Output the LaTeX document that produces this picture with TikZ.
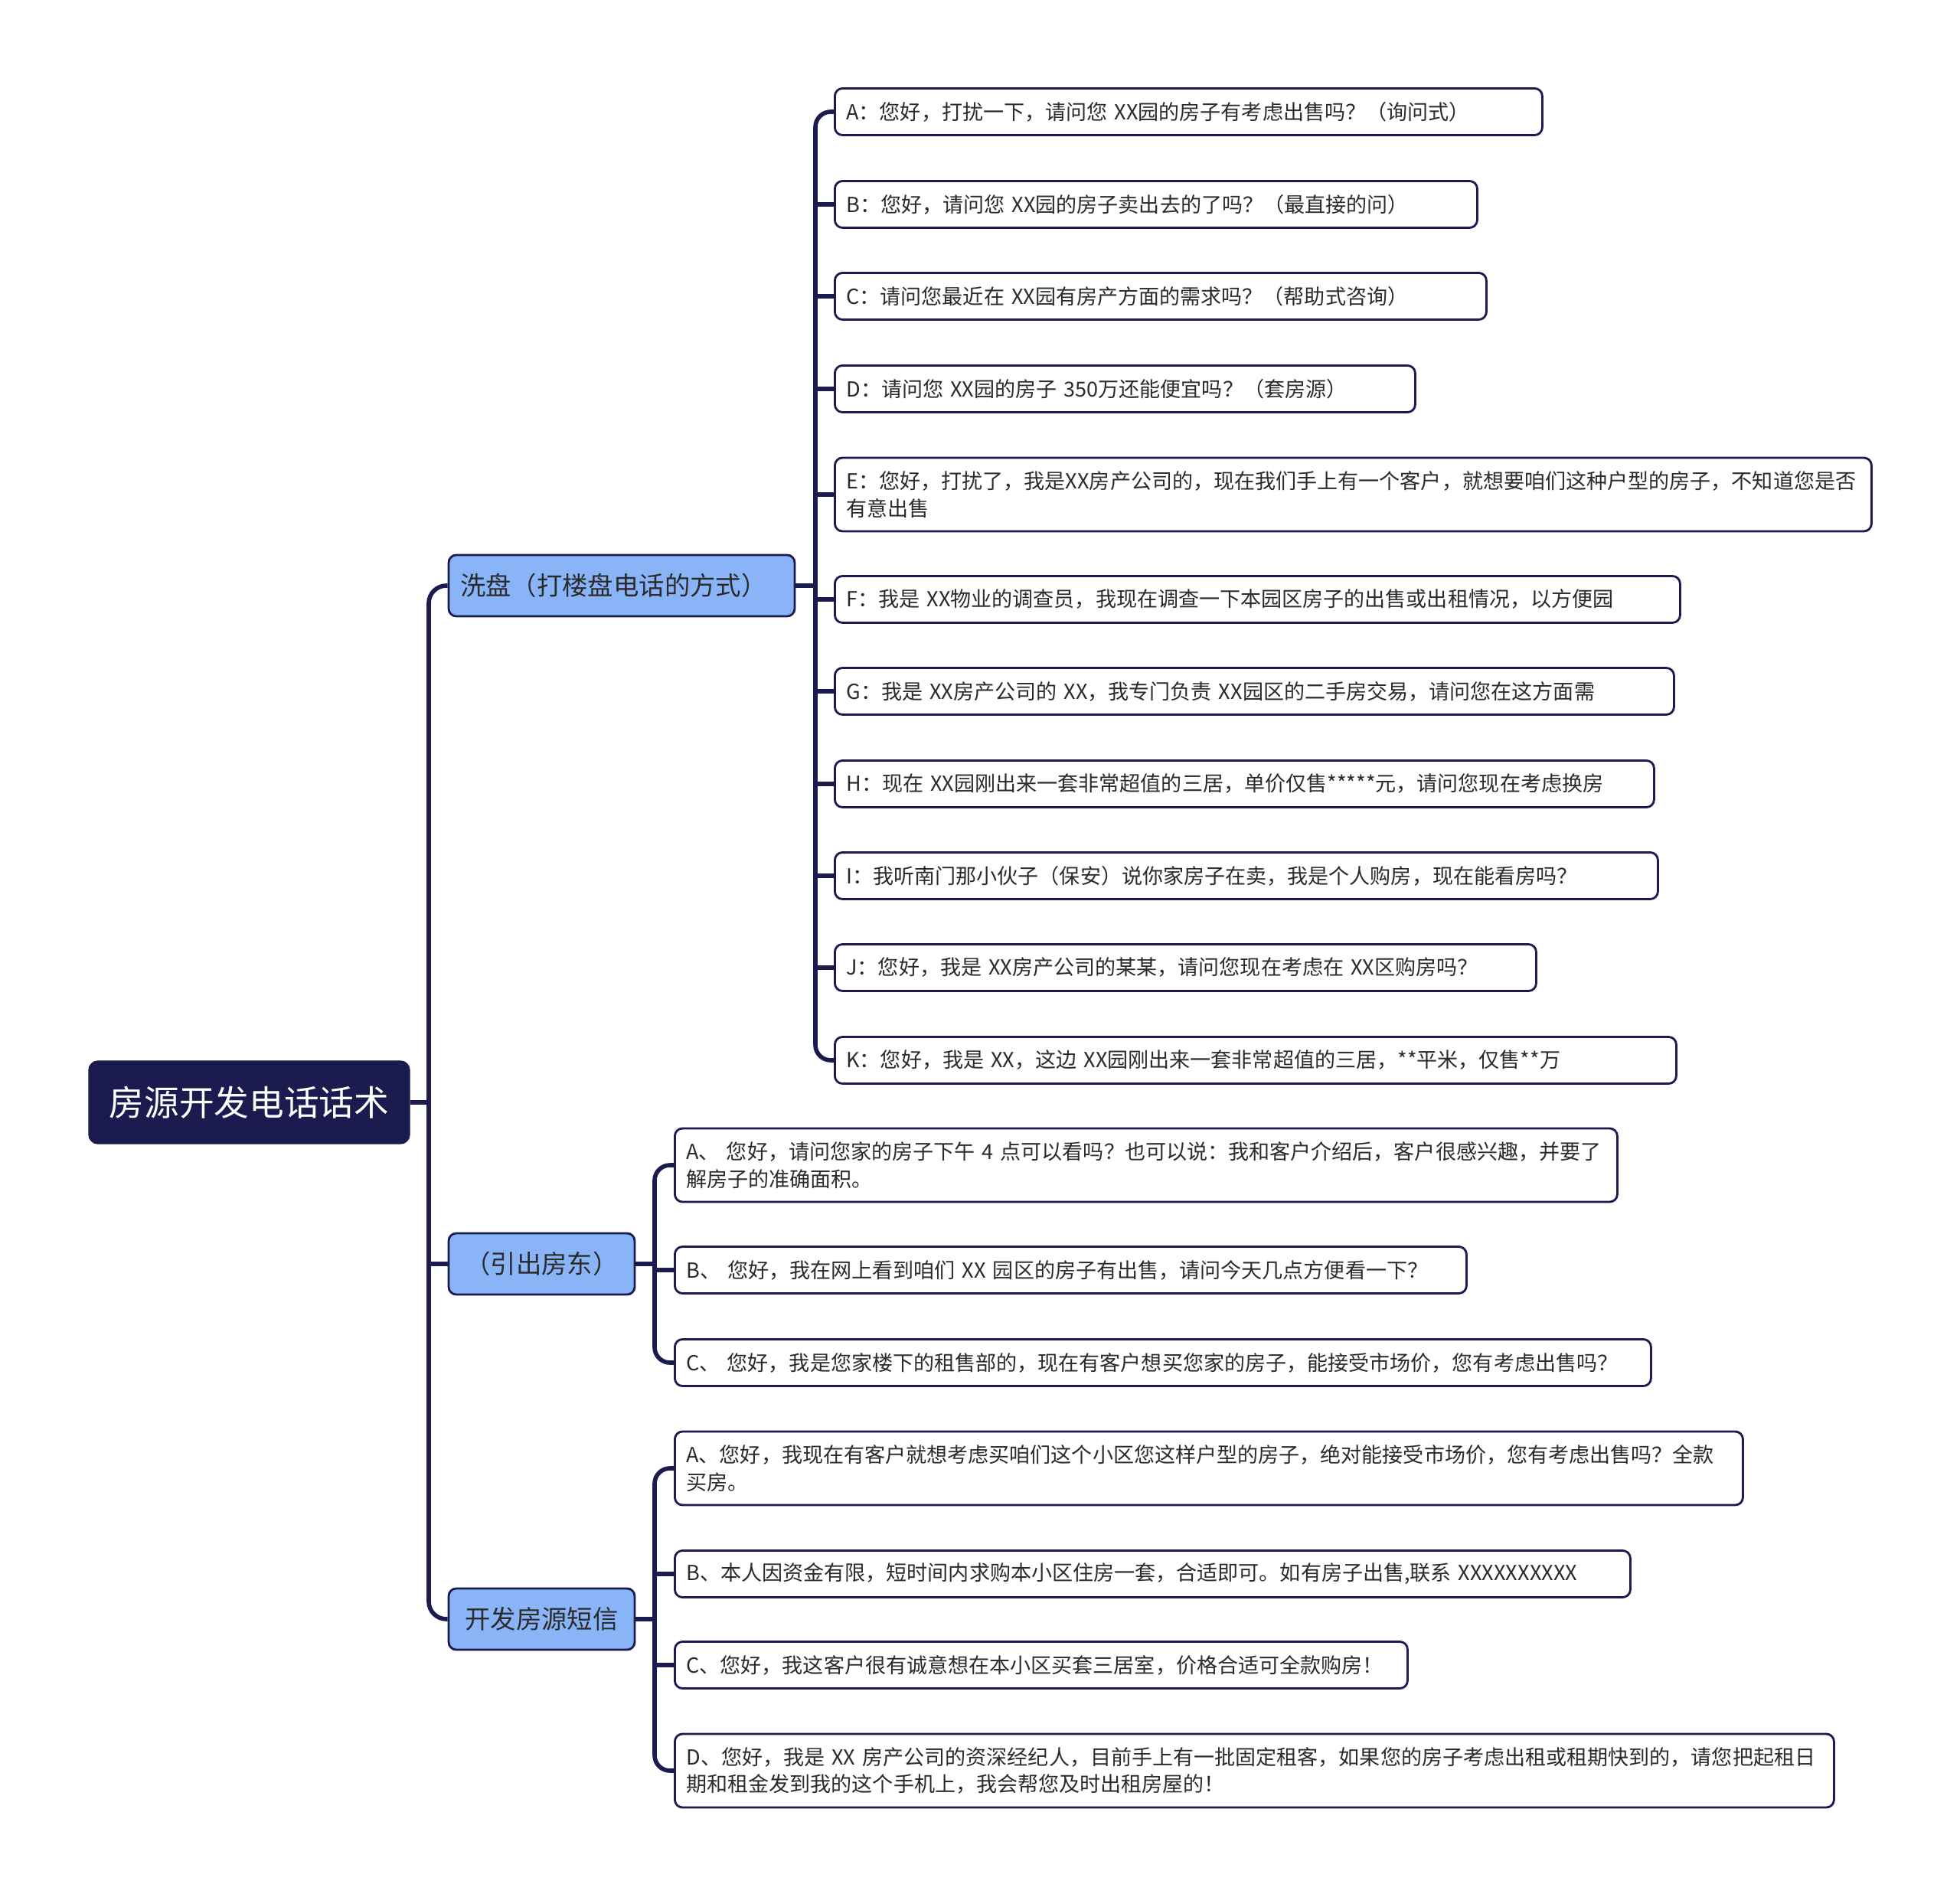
\documentclass[tikz,border=0pt]{standalone}
\usepackage{fontspec}
\setmainfont{Noto Sans CJK SC}

\definecolor{navy}{HTML}{1C1B4F}
\definecolor{topicblue}{HTML}{8AB4F8}
\definecolor{textdark}{HTML}{2B2B2B}

\begin{document}
\begin{tikzpicture}[
    conn/.style={draw=navy, line width=1.6pt},
    rootbox/.style={rectangle, rounded corners=0.12cm, fill=navy, draw=navy,
      text=white, font=\fontsize{13pt}{15pt}\selectfont,
      minimum width=4.19cm, minimum height=1.08cm},
    topic/.style={rectangle, rounded corners=0.1cm, fill=topicblue, draw=navy,
      line width=0.8pt, text=textdark, font=\fontsize{9.5pt}{11pt}\selectfont,
      minimum height=0.8cm},
    leaf/.style={rectangle, rounded corners=0.1cm, draw=navy, line width=0.8pt,
      fill=white, text=textdark, font=\fontsize{7.7pt}{10.2pt}\selectfont,
      inner xsep=0.15cm, inner ysep=0pt, text width=#1, align=left,
      anchor=west, minimum height=0.61cm},
    twoline/.style={minimum height=0.96cm}
  ]
  \useasboundingbox (0,0) rectangle (25.6,-24.78);

  % Spine positions
  \coordinate (s0) at (5.60,0);
  \coordinate (s1) at (10.65,0);
  \coordinate (s2) at (8.55,0);

  % Root and topics
  \node[rootbox] (root) at (3.255,-14.40) {房源开发电话话术};
  \node[topic, minimum width=4.52cm, text width=4.22cm, inner xsep=0.15cm] (xipan) at (8.12,-7.65) {洗盘（打楼盘电话的方式）};
  \node[topic, minimum width=2.43cm] (yinchu) at (7.075,-16.51) {（引出房东）};
  \node[topic, minimum width=2.43cm] (duanxin) at (7.075,-21.15) {开发房源短信};

  % Washing the list
  \node[leaf=8.94cm] (xa) at (10.89,-1.46) {A：您好，打扰一下，请问您 XX园的房子有考虑出售吗？（询问式）};
  \node[leaf=8.09cm] (xb) at (10.89,-2.67) {B：您好，请问您 XX园的房子卖出去的了吗？（最直接的问）};
  \node[leaf=8.21cm] (xc) at (10.89,-3.87) {C：请问您最近在 XX园有房产方面的需求吗？（帮助式咨询）};
  \node[leaf=7.28cm] (xd) at (10.89,-5.08) {D：请问您 XX园的房子 350万还能便宜吗？（套房源）};
  \node[leaf=13.24cm, twoline] (xe) at (10.89,-6.46) {E：您好，打扰了，我是XX房产公司的，现在我们手上有一个客户，就想要咱们这种户型的房子，不知道您是否\\有意出售};
  \node[leaf=10.74cm] (xf) at (10.89,-7.83) {F：我是 XX物业的调查员，我现在调查一下本园区房子的出售或出租情况，以方便园};
  \node[leaf=10.66cm] (xg) at (10.89,-9.03) {G：我是 XX房产公司的 XX，我专门负责 XX园区的二手房交易，请问您在这方面需};
  \node[leaf=10.40cm] (xh) at (10.89,-10.24) {H：现在 XX园刚出来一套非常超值的三居，单价仅售*****元，请问您现在考虑换房};
  \node[leaf=10.45cm] (xi) at (10.89,-11.44) {I：我听南门那小伙子（保安）说你家房子在卖，我是个人购房，现在能看房吗？};
  \node[leaf=8.86cm] (xj) at (10.89,-12.64) {J：您好，我是 XX房产公司的某某，请问您现在考虑在 XX区购房吗？};
  \node[leaf=10.69cm] (xk) at (10.89,-13.85) {K：您好，我是 XX，这边 XX园刚出来一套非常超值的三居，**平米，仅售**万};

  % Drawing out the owner
  \node[leaf=12.01cm, twoline] (ya) at (8.80,-15.22) {A、 您好，请问您家的房子下午 4 点可以看吗？也可以说：我和客户介绍后，客户很感兴趣，并要了\\解房子的准确面积。};
  \node[leaf=10.04cm] (yb) at (8.80,-16.59) {B、 您好，我在网上看到咱们 XX 园区的房子有出售，请问今天几点方便看一下？};
  \node[leaf=12.45cm] (yc) at (8.80,-17.80) {C、 您好，我是您家楼下的租售部的，现在有客户想买您家的房子，能接受市场价，您有考虑出售吗？};

  % Text messages
  \node[leaf=13.65cm, twoline] (da) at (8.80,-19.18) {A、您好，我现在有客户就想考虑买咱们这个小区您这样户型的房子，绝对能接受市场价，您有考虑出售吗？全款\\买房。};
  \node[leaf=12.18cm] (db) at (8.80,-20.56) {B、本人因资金有限，短时间内求购本小区住房一套，合适即可。如有房子出售,联系 XXXXXXXXXX};
  \node[leaf=9.27cm] (dc) at (8.80,-21.75) {C、您好，我这客户很有诚意想在本小区买套三居室，价格合适可全款购房！};
  \node[leaf=14.84cm, twoline] (dd) at (8.80,-23.13) {D、您好，我是 XX 房产公司的资深经纪人，目前手上有一批固定租客，如果您的房子考虑出租或租期快到的，请您把起租日\\期和租金发到我的这个手机上，我会帮您及时出租房屋的！};

  % Root to topics
  \draw[conn] (root.east) -- (root.east -| s0);
  \draw[conn, rounded corners=0.23cm] (xipan.west) -| (duanxin.west -| s0) -- (duanxin.west);
  \draw[conn] (yinchu.west) -- (yinchu.west -| s0);

  % Topic 1 to its leaves
  \draw[conn] (xipan.east) -- (xipan.east -| s1);
  \draw[conn, rounded corners=0.2cm] (xa.west) -| (xk.west -| s1) -- (xk.west);
  \foreach \n in {xb,xc,xd,xe,xf,xg,xh,xi,xj}
    \draw[conn] (\n.west) -- (\n.west -| s1);

  % Topic 2 to its leaves
  \draw[conn] (yinchu.east) -- (yinchu.east -| s2);
  \draw[conn, rounded corners=0.2cm] (ya.west) -| (yc.west -| s2) -- (yc.west);
  \draw[conn] (yb.west) -- (yb.west -| s2);

  % Topic 3 to its leaves
  \draw[conn] (duanxin.east) -- (duanxin.east -| s2);
  \draw[conn, rounded corners=0.2cm] (da.west) -| (dd.west -| s2) -- (dd.west);
  \foreach \n in {db,dc}
    \draw[conn] (\n.west) -- (\n.west -| s2);

\end{tikzpicture}
\end{document}
